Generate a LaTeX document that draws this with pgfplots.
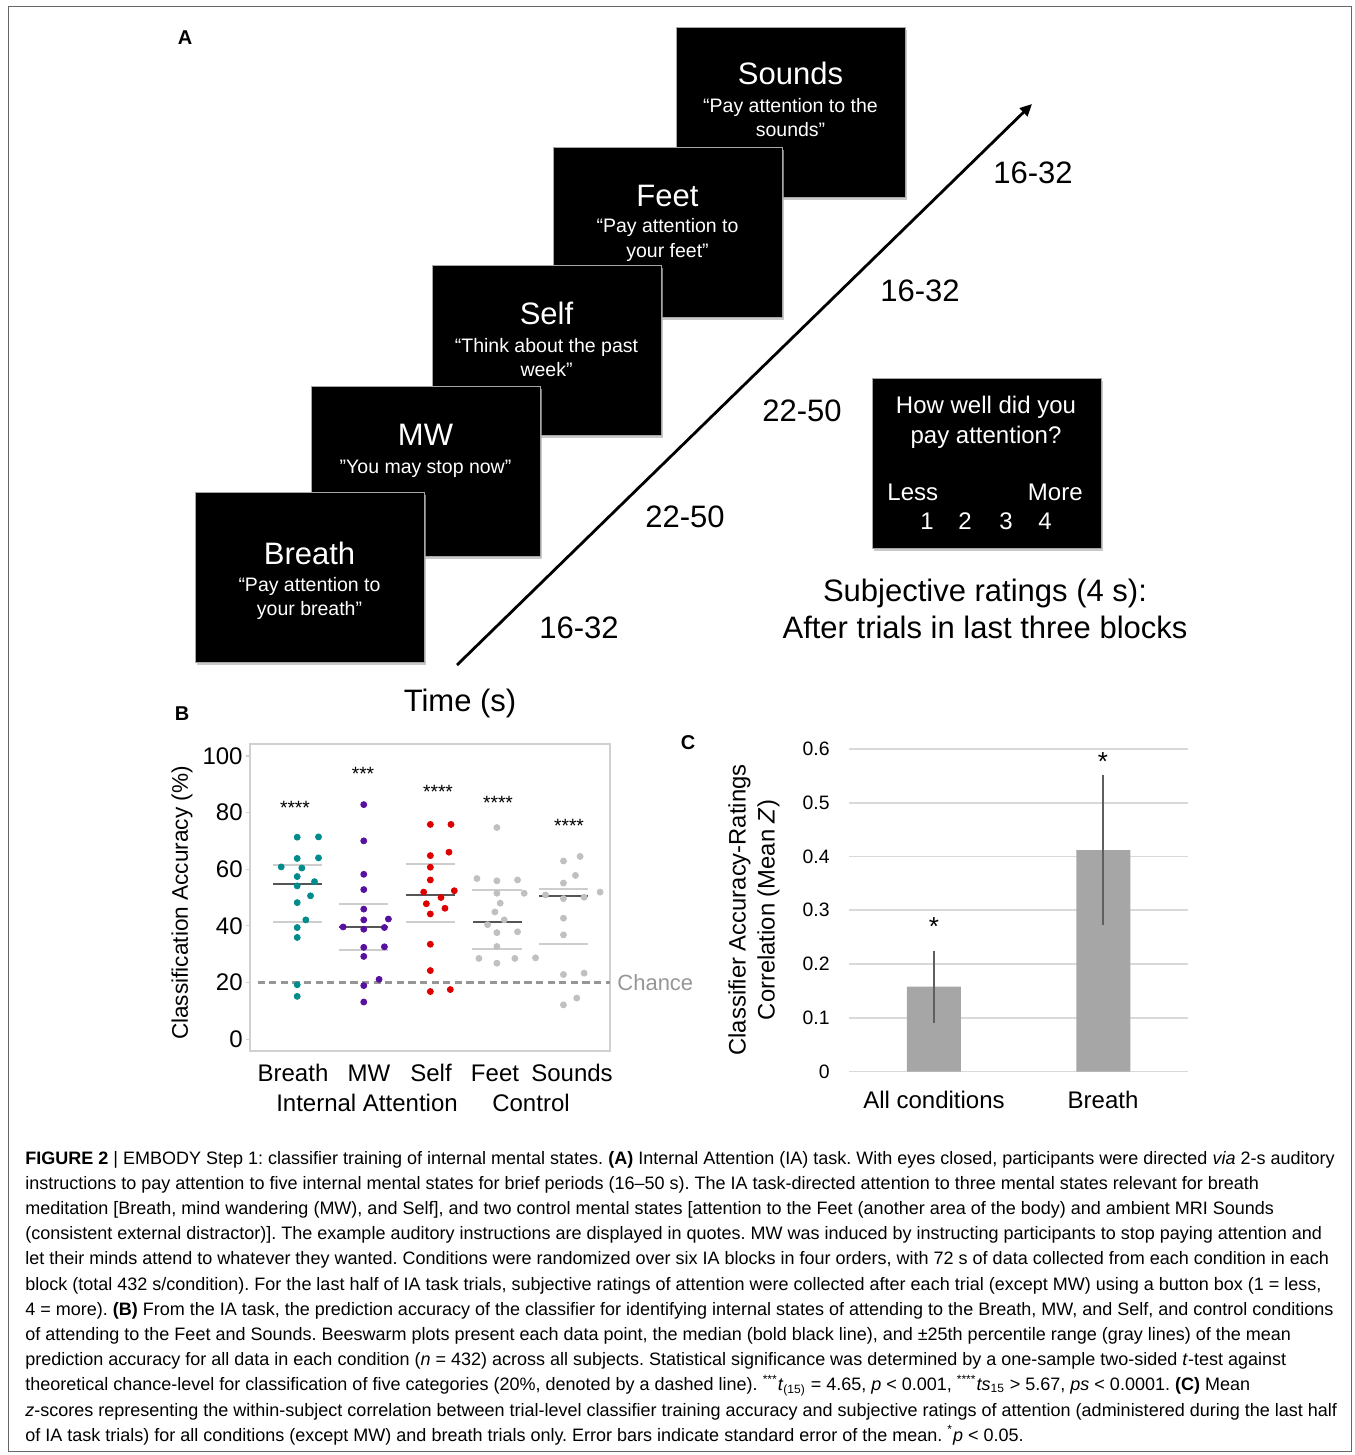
\documentclass[border=0pt]{standalone}
\usepackage{fontspec}
\setmainfont{Liberation Sans}
\usepackage{pgfplots}
\pgfplotsset{compat=1.18}
\usetikzlibrary{arrows.meta}
\definecolor{cTeal}{RGB}{0,140,140}
\definecolor{cPurp}{RGB}{88,16,160}
\definecolor{cRed}{RGB}{222,0,0}
\definecolor{cLG}{RGB}{192,192,192}
\definecolor{cFrame}{RGB}{208,208,208}
\definecolor{cQ}{RGB}{205,205,205}
\definecolor{cMed}{RGB}{85,85,85}
\definecolor{cChance}{RGB}{150,150,150}
\definecolor{cBar}{RGB}{166,166,166}
\definecolor{cErr}{RGB}{95,95,95}
\definecolor{cGrid}{RGB}{217,217,217}
\newcommand\fs[1]{\fontsize{#1}{#1}\selectfont}
\newcommand\capline[2]{\node[anchor=base west,inner sep=0pt,font=\fs{9.0}\frenchspacing] at (25,#1) {#2};}
\begin{document}
\begin{tikzpicture}
\path[use as bounding box] (0,0) rectangle (677pt,-727.5pt);
\begin{scope}[x=0.5pt,y=-0.5pt]
\draw[black!60,line width=0.5pt] (8,6.5) rectangle (1351,1451);
% panel A
\node[anchor=base,font=\bfseries\fs{10}] at (185,45) {A};
\foreach \xa/\ya in {676/27,553/147,432/265,311/386,195/492,872/378}{
  \fill[black!30,opacity=0.7] (\xa+2,\ya+3) rectangle (\xa+231,\ya+173);
  \filldraw[fill=black,draw=black!35,line width=0.4pt] (\xa,\ya) rectangle (\xa+229,\ya+170);
}
\begin{scope}[every node/.style={text=white,anchor=base,inner sep=0pt}]
\node[font=\fs{15.5}] at (790.5,85) {Sounds};
\node[font=\fs{9.75}] at (790.5,113) {“Pay attention to the};
\node[font=\fs{9.75}] at (790.5,137) {sounds”};
\node[font=\fs{15.5}] at (667.5,206) {Feet};
\node[font=\fs{9.75}] at (667.5,233) {“Pay attention to};
\node[font=\fs{9.75}] at (667.5,257) {your feet”};
\node[font=\fs{15.5}] at (546.5,324) {Self};
\node[font=\fs{9.75}] at (546.5,352) {“Think about the past};
\node[font=\fs{9.75}] at (546.5,376) {week”};
\node[font=\fs{15.5}] at (425.5,445) {MW};
\node[font=\fs{9.75}] at (425.5,473) {”You may stop now”};
\node[font=\fs{15.5}] at (309.5,564) {Breath};
\node[font=\fs{9.75}] at (309.5,591) {“Pay attention to};
\node[font=\fs{9.75}] at (309.5,615) {your breath”};
\node[font=\fs{12}] at (986,413) {How well did you};
\node[font=\fs{12}] at (986,443) {pay attention?};
\node[font=\fs{12},anchor=base west] at (887,500) {Less};
\node[font=\fs{12},anchor=base east] at (1083,500) {More};
\node[font=\fs{12}] at (927,529) {1};
\node[font=\fs{12}] at (965,529) {2};
\node[font=\fs{12}] at (1006,529) {3};
\node[font=\fs{12}] at (1045,529) {4};
\end{scope}
\draw[line width=1.4pt,-{Triangle[length=6pt,width=5.5pt]}] (457,665) -- (1032,104);
\begin{scope}[every node/.style={anchor=base,inner sep=0pt,font=\fs{15.5}}]
\node at (579,638) {16-32};
\node at (685,527) {22-50};
\node at (802,421) {22-50};
\node at (920,301) {16-32};
\node at (1033,184) {16-32};
\node at (985,601) {Subjective ratings (4 s):};
\node at (985,638) {After trials in last three blocks};
\node at (460,711) {Time (s)};
\end{scope}
% panel B labels
\node[anchor=base,font=\bfseries\fs{10}] at (182,720) {B};
\node[rotate=90,font=\fs{11.3}] at (182,903) {Classification Accuracy (\%)};
\begin{scope}[every node/.style={anchor=base,inner sep=0pt,font=\fs{12}}]
\node at (293,1081) {Breath};
\node at (369,1081) {MW};
\node at (431,1081) {Self};
\node at (495,1081) {Feet};
\node at (572,1081) {Sounds};
\node at (367,1111) {Internal Attention};
\node at (531,1111) {Control};
\end{scope}
\node[anchor=base west,inner sep=0pt,font=\fs{11},text=cChance] at (617,990) {Chance};
\begin{scope}[every node/.style={anchor=base,inner sep=0pt,font=\fs{9.6}}]
\node at (295,814) {****};
\node at (363,780) {***};
\node at (438,798) {****};
\node at (498,809) {****};
\node at (569,832) {****};
\end{scope}
% panel C labels
\node[anchor=base,font=\bfseries\fs{10}] at (688,749) {C};
\node[rotate=90,align=center,font=\fontsize{11.9}{14.5}\selectfont] at (754,910) {Classifier Accuracy-Ratings\\Correlation (Mean \textit{Z})};
\node[anchor=base,inner sep=0pt,font=\fs{12}] at (934,1108) {All conditions};
\node[anchor=base,inner sep=0pt,font=\fs{12}] at (1103,1108) {Breath};
\node[anchor=base,inner sep=0pt,font=\fs{13}] at (934,935) {*};
\node[anchor=base,inner sep=0pt,font=\fs{13}] at (1103,770) {*};
% caption
\capline{1164}{\textbf{FIGURE 2} | EMBODY Step 1: classifier training of internal mental states. \textbf{(A)} Internal Attention (IA) task. With eyes closed, participants were directed \textit{via} 2-s auditory}
\capline{1189.2}{instructions to pay attention to five internal mental states for brief periods (16–50 s). The IA task-directed attention to three mental states relevant for breath}
\capline{1214.4}{meditation [Breath, mind wandering (MW), and Self], and two control mental states [attention to the Feet (another area of the body) and ambient MRI Sounds}
\capline{1239.6}{(consistent external distractor)]. The example auditory instructions are displayed in quotes. MW was induced by instructing participants to stop paying attention and}
\capline{1264.8}{let their minds attend to whatever they wanted. Conditions were randomized over six IA blocks in four orders, with 72 s of data collected from each condition in each}
\capline{1290}{block (total 432 s/condition). For the last half of IA task trials, subjective ratings of attention were collected after each trial (except MW) using a button box (1 = less,}
\capline{1315.2}{4 = more). \textbf{(B)} From the IA task, the prediction accuracy of the classifier for identifying internal states of attending to the Breath, MW, and Self, and control conditions}
\capline{1340.4}{of attending to the Feet and Sounds. Beeswarm plots present each data point, the median (bold black line), and ±25th percentile range (gray lines) of the mean}
\capline{1365.6}{prediction accuracy for all data in each condition (\textit{n} = 432) across all subjects. Statistical significance was determined by a one-sample two-sided \textit{t}-test against}
\capline{1390.8}{theoretical chance-level for classification of five categories (20\%, denoted by a dashed line). \textsuperscript{***}\textit{t}\textsubscript{(15)} = 4.65, \textit{p} < 0.001, \textsuperscript{****}\textit{ts}\textsubscript{15} > 5.67, \textit{ps} < 0.0001. \textbf{(C)} Mean}
\capline{1416}{\textit{z}-scores representing the within-subject correlation between trial-level classifier training accuracy and subjective ratings of attention (administered during the last half}
\capline{1441.2}{of IA task trials) for all conditions (except MW) and breath trials only. Error bars indicate standard error of the mean. \textsuperscript{*}\textit{p} < 0.05.}
\end{scope}
% Panel B axis
\begin{axis}[at={(125pt,-525.5pt)},anchor=south west,scale only axis,
  width=180pt,height=153.5pt,
  xmin=0.291,xmax=5.699,ymin=-4.2,ymax=104.2,
  axis line style={draw=cFrame,line width=0.9pt},
  xtick=\empty,ytick={0,20,40,60,80,100},ytick pos=left,
  tick align=outside,major tick length=2pt,
  tick style={cFrame,line width=0.6pt},
  /pgf/number format/assume math mode=true,
  yticklabel style={font=\fs{12},inner sep=0pt,xshift=-1.5pt},
  clip=false]
\addplot[cChance,line width=1.3pt,dash pattern=on 3.6pt off 2.2pt] coordinates {(0.405,20) (5.699,20)};
% quartile lines
\foreach \c/\a/\b in {1/61.5/41.5,2/47.6/31.5,3/61.8/41.5,4/52.5/31.9,5/53.1/33.5}{
  \edef\tmp{\noexpand\addplot[cQ,line width=1pt] coordinates {(\c-0.37,\a) (\c+0.37,\a)};
  \noexpand\addplot[cQ,line width=1pt] coordinates {(\c-0.37,\b) (\c+0.37,\b)};}\tmp
}
\addplot[cMed,line width=1.1pt] coordinates {(0.63,54.8) (1.37,54.8)};
\addplot[cMed,line width=1.1pt] coordinates {(1.63,39.5) (2.37,39.5)};
\addplot[cMed,line width=1.1pt] coordinates {(2.63,50.9) (3.37,50.9)};
\addplot[cMed,line width=1.1pt] coordinates {(3.64,41.3) (4.37,41.3)};
\addplot[cMed,line width=1.1pt] coordinates {(4.63,50.6) (5.37,50.6)};
\addplot[only marks,mark=*,mark size=1.5pt,color=cTeal,mark options={draw=none,fill=cTeal}] coordinates {
(1,71.3) (1.32,71.4) (1,63.8) (1.32,64.0) (0.76,60.8) (1.07,60.4) (1,57.4) (1.26,55.6) (1,54.1) (1.20,50.6) (1,48.2) (1.13,42.1) (1,39.4) (1,35.9) (1,19.2) (1,15.1)};
\addplot[only marks,mark=*,mark size=1.5pt,color=cPurp,mark options={draw=none,fill=cPurp}] coordinates {
(2,82.8) (2,70.0) (2,58.2) (2,52.8) (2,45.9) (2,42.1) (2.37,42.4) (1.69,39.6) (2,38.8) (2.31,39.4) (2,32.4) (2.31,32.6) (2,29.2) (2.23,21.1) (2,18.9) (2,13.1)};
\addplot[only marks,mark=*,mark size=1.5pt,color=cRed,mark options={draw=none,fill=cRed}] coordinates {
(3,75.8) (3.31,75.8) (3,64.8) (3.28,66.0) (3,60.7) (3,56.2) (2.90,51.9) (3.36,52.4) (3.16,50.0) (2.94,47.8) (3.22,46.2) (3,44.2) (3,33.5) (3,24.2) (3,16.8) (3.30,17.5)};
\addplot[only marks,mark=*,mark size=1.5pt,color=cLG,mark options={draw=none,fill=cLG}] coordinates {
(4,74.7) (3.70,56.7) (4,55.9) (4.31,56.2) (4,51.5) (4.41,51.5) (4.05,48.0) (3.97,44.9) (4.11,42.1) (3.86,40.4) (4,37.6) (4.31,37.9) (4,32.7) (3.73,28.5) (4,26.8) (4.27,28.5) (4.58,28.7)};
\addplot[only marks,mark=*,mark size=1.5pt,color=cLG,mark options={draw=none,fill=cLG}] coordinates {
(5,62.9) (5.25,64.5) (5.18,57.8) (5,55.1) (4.73,50.9) (5,49.6) (5.31,50.1) (5.55,51.9) (5,42.7) (5,36.8) (5,22.8) (5.31,23.3) (5.20,14.5) (5,12.1)};
\end{axis}
% Panel C axis
\begin{axis}[at={(424.5pt,-535.75pt)},anchor=south west,scale only axis,
  width=169.5pt,height=161.25pt,
  xmin=0.5,xmax=2.5,ymin=0,ymax=0.6,
  axis line style={draw=none},
  xtick=\empty,ytick={0,0.1,0.2,0.3,0.4,0.5,0.6},
  yticklabels={0,0.1,0.2,0.3,0.4,0.5,0.6},
  major tick length=0pt,
  ymajorgrids,grid style={cGrid,line width=0.8pt},
  yticklabel style={font=\fs{9.7},inner sep=0pt,xshift=-9.5pt},
  clip=false]
\addplot[ybar,bar width=27pt,fill=cBar,draw=none,
  error bars/.cd,y dir=both,y explicit,error mark=none,
  error bar style={line width=0.85pt,draw=cErr}]
  coordinates {(1,0.158) +- (0,0.067) (2,0.412) +- (0,0.139)};
\end{axis}
\end{tikzpicture}
\end{document}
